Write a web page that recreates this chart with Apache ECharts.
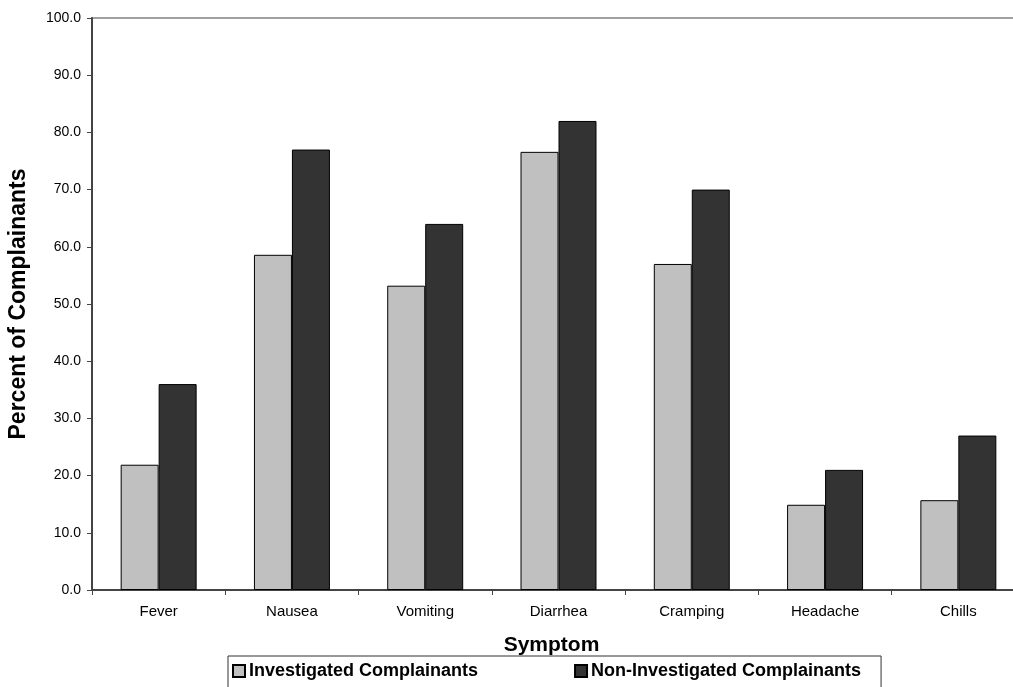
<!DOCTYPE html>
<html>
<head>
<meta charset="utf-8">
<script src="https://cdn.jsdelivr.net/npm/echarts@6/dist/echarts.min.js"></script>
<style>html,body{margin:0;padding:0;background:#fff}#c{width:1013px;height:687px}</style>
</head>
<body>
<div id="c"></div>
<script>
const categories = ['Fever', 'Nausea', 'Vomiting', 'Diarrhea', 'Cramping', 'Headache', 'Chills'];
const investigated = [21.9, 58.6, 53.2, 76.6, 57.0, 14.9, 15.7];
const nonInvestigated = [36.0, 77.0, 64.0, 82.0, 70.0, 21.0, 27.0];
const seriesNames = ['Investigated Complainants', 'Non-Investigated Complainants'];

const FONT = '"Liberation Sans", Arial, sans-serif';
const chart = echarts.init(document.getElementById('c'), null, { renderer: 'canvas' });
chart.setOption({
  backgroundColor: '#fff',
  animation: false,
  textStyle: { fontFamily: FONT },
  grid: { left: 92, top: 18, right: -12, bottom: 97, outerBoundsMode: 'none', containLabel: false,
          show: true, borderColor: '#a0a0a0', borderWidth: 2 },
  legend: {
    data: seriesNames,
    left: 228, top: 656,
    orient: 'horizontal',
    itemWidth: 12, itemHeight: 12, itemGap: 96,
    icon: 'rect',
    borderColor: '#333', borderWidth: 1,
    padding: [6, 20, 12, 4],
    textStyle: { fontFamily: FONT, fontWeight: 'bold', fontSize: 18, color: '#000', padding: [0, 0, 0, -1] }
  },
  xAxis: {
    type: 'category',
    data: categories,
    name: 'Symptom',
    nameLocation: 'middle',
    nameGap: 45,
    nameTextStyle: { fontFamily: FONT, fontWeight: 'bold', fontSize: 21, color: '#000', padding: [0, 14, 0, 0] },
    axisLine: { lineStyle: { color: '#444', width: 2 } },
    axisTick: { show: true, length: 5, lineStyle: { color: '#444', width: 1 } },
    axisLabel: { fontFamily: FONT, fontSize: 15, color: '#000', margin: 14 },
    splitLine: { show: false }
  },
  yAxis: {
    type: 'value',
    min: 0, max: 100, interval: 10,
    name: 'Percent of Complainants',
    nameLocation: 'middle',
    nameGap: 62,
    nameTextStyle: { fontFamily: FONT, fontWeight: 'bold', fontSize: 23, color: '#000' },
    axisLine: { show: true, lineStyle: { color: '#444', width: 2 } },
    axisTick: { show: true, length: 5, lineStyle: { color: '#444', width: 1 } },
    axisLabel: { fontFamily: FONT, fontSize: 14, color: '#000', margin: 11, formatter: v => v.toFixed(1) },
    splitLine: { show: false }
  },
  series: [
    {
      name: seriesNames[0], type: 'bar', data: investigated,
      barWidth: '28.5%', barGap: '0%',
      itemStyle: { color: '#C0C0C0', borderColor: '#000', borderWidth: 1 }
    },
    {
      name: seriesNames[1], type: 'bar', data: nonInvestigated,
      barWidth: '28.5%', barGap: '0%',
      itemStyle: { color: '#333333', borderColor: '#000', borderWidth: 1 }
    }
  ]
});
</script>
</body>
</html>
